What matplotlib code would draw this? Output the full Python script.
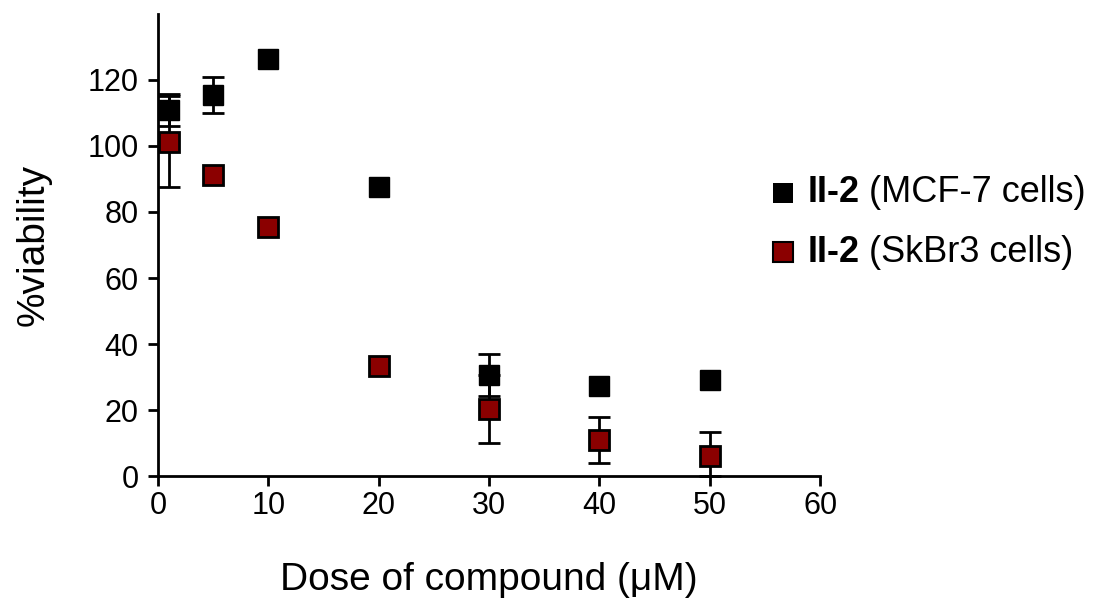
import matplotlib.pyplot as plt
from matplotlib.lines import Line2D

plt.rcParams['font.family'] = ['Liberation Sans', 'DejaVu Sans']

# Dose (uM)
dose = [1, 5, 10, 20, 30, 40, 50]

# MCF-7 cells
mcf7 = [110.9, 115.5, 126.4, 87.6, 30.6, 27.3, 29.1]
mcf7_err = [4.8, 5.5, 0.0, 0.0, 6.4, 0.0, 0.0]

# SkBr3 cells (lower / upper error)
skbr3 = [101.3, 91.2, 75.5, 33.3, 20.3, 11.0, 6.1]
skbr3_lo = [13.7, 0.0, 0.0, 0.0, 10.2, 7.0, 6.0]
skbr3_hi = [13.7, 0.0, 0.0, 0.0, 10.2, 7.0, 7.3]

red = '#8b0000'

fig = plt.figure(figsize=(10.99, 5.98), dpi=100)
ax = fig.add_axes([0.1438, 0.204, 0.6024, 0.7726])

# error bars below the markers (only where visible)
for ys, lo, hi in [(mcf7, mcf7_err, mcf7_err), (skbr3, skbr3_lo, skbr3_hi)]:
    keep = [i for i in range(len(dose)) if hi[i] > 0]
    ax.errorbar([dose[i] for i in keep], [ys[i] for i in keep],
                yerr=[[lo[i] for i in keep], [hi[i] for i in keep]],
                fmt='none', ecolor='black', elinewidth=2, capsize=8,
                capthick=2, clip_on=False, zorder=2)
ax.plot(dose, mcf7, 's', color='black', markersize=15, clip_on=False, zorder=3)
ax.plot(dose, skbr3, 's', color=red, mec='black', mew=2, markersize=14,
        clip_on=False, zorder=4)

ax.set_xlim(0, 60)
ax.set_ylim(0, 140)
ax.set_xticks(range(0, 61, 10))
ax.set_yticks(range(0, 121, 20))
for s in ['top', 'right']:
    ax.spines[s].set_visible(False)
for s in ['left', 'bottom']:
    ax.spines[s].set_linewidth(2)
ax.tick_params(labelsize=22, width=2, length=7)
ax.tick_params(axis='y', pad=7)

ax.set_xlabel("Dose of compound (μM)", fontsize=28, labelpad=30)
ax.set_ylabel("%viability", fontsize=28, labelpad=26)

# legend: marker + bold compound name + normal cell line
labels = ["(MCF-7 cells)", "(SkBr3 cells)"]
colors = ['black', red]
for i, (lab, c) in enumerate(zip(labels, colors)):
    y = 0.678 - i * 0.10
    m = Line2D([0.7125], [y], transform=fig.transFigure, marker='s',
               color=c, mec='black', mew=1.5 if c != 'black' else 0,
               markersize=14, linestyle='none')
    fig.add_artist(m)
    t = fig.text(0.735, y, "II-2", fontsize=26, fontweight='bold', va='center')
    fig.canvas.draw()
    bb = t.get_window_extent()
    fig.text(bb.x1 / fig.bbox.width + 0.008, y, lab, fontsize=26, va='center')

plt.savefig("out.png", dpi=100)
